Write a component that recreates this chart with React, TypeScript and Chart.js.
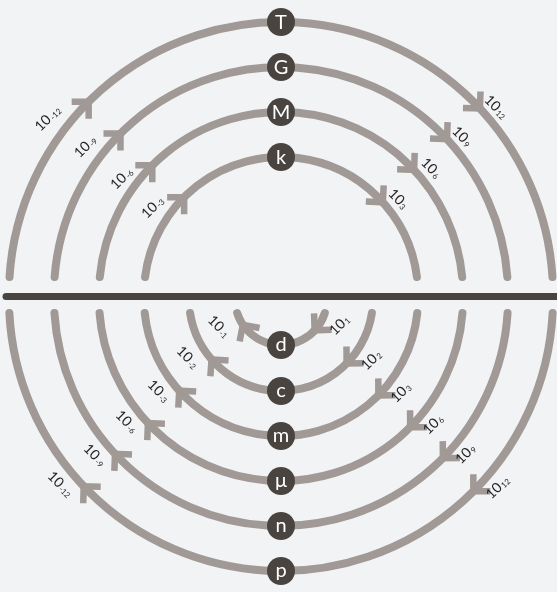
import { useEffect, useRef } from "react";
import { Chart, registerables } from "chart.js";

Chart.register(...registerables);

// ---------- data ----------
const upperPrefixes = ["k", "M", "G", "T"];
const upperPositiveExponents = ["3", "6", "9", "12"];
const upperNegativeExponents = ["-3", "-6", "-9", "-12"];

const lowerPrefixes = ["d", "c", "m", "μ", "n", "p"];
const lowerPositiveExponents = ["1", "2", "3", "6", "9", "12"];
const lowerNegativeExponents = ["-1", "-2", "-3", "-6", "-9", "-12"];

// ring radii (in scale units) for each prefix
const upperRadii = [137, 182, 227, 272];
const lowerRadii = [46, 92, 137, 182, 227, 272];

// ---------- layout (scale units) ----------
const W = 557;
const H = 592;
const CX = 281;
const UPPER_CY = 294;
const LOWER_CY = 299;
const BAR_Y = 296.5;
const BAR_X0 = 6;
const BAR_X1 = 560;
const UPPER_GAP = 17;
const LOWER_GAP = 14;

// angles (deg from horizontal) for arrows and labels
const upperArrowLeft = [45, 45, 45, 45];
const upperArrowRight = [42, 43, 43, 43];
const upperLabelLeft = [34, 36, 37, 37];
const upperLabelRight = [39, 40, 41, 41];
const upperLabelLeftOff = [18, 15, 18, 20];
const upperLabelRightOff = [14, 14, 13, 13];

const lowerArrowLeft = [34, 41, 42, 43, 43, 43.5];
const lowerArrowRight = [43, 44.5, 44.7, 44.8, 44.5, 45];
const lowerLabelLeft = [24, 32, 37, 38.5, 40, 40];
const lowerLabelRight = [24, 34, 38, 39.5, 40, 41];
const lowerLabelLeftOff = [22, 18, 16, 15, 16, 16];
const lowerLabelRightOff = [18, 17, 15, 15, 14, 15];

// ---------- styles ----------
const BG = "#f1f3f5";
const ARC = "#a09995";
const DARK = "#4a4441";
const TEXT = "#231f20";
const FONT = "Lato, 'DejaVu Sans', sans-serif";

const deg = (d: number) => (d * Math.PI) / 180;

const diagramPlugin = {
  id: "prefixDiagram",
  beforeDraw(chart: any) {
    const ctx = chart.ctx;
    ctx.save();
    ctx.fillStyle = BG;
    ctx.fillRect(0, 0, chart.width, chart.height);
    ctx.restore();
  },
  beforeDatasetsDraw(chart: any) {
    const ctx = chart.ctx;
    const xs = chart.scales.x;
    const ys = chart.scales.y;
    const px = (v: number) => xs.getPixelForValue(v);
    const py = (v: number) => ys.getPixelForValue(v);
    const len = (r: number) => Math.abs(px(CX + r) - px(CX));

    ctx.save();
    ctx.strokeStyle = ARC;
    ctx.lineWidth = 8;
    ctx.lineCap = "round";

    const chevron = (cxp: number, cyp: number, R: number, phi: number) => {
      const vx = cxp + R * Math.cos(phi);
      const vy = cyp + R * Math.sin(phi);
      const tx = -Math.sin(phi);
      const ty = Math.cos(phi);
      const bx = -tx;
      const by = -ty;
      const L = 17;
      const arms = [deg(45), deg(-45)].map((a) => {
        const c = Math.cos(a);
        const s = Math.sin(a);
        return [vx + L * (bx * c - by * s), vy + L * (bx * s + by * c)];
      });
      ctx.save();
      ctx.lineWidth = 6.5;
      ctx.lineCap = "butt";
      ctx.lineJoin = "miter";
      ctx.beginPath();
      ctx.moveTo(arms[0][0], arms[0][1]);
      ctx.lineTo(vx, vy);
      ctx.lineTo(arms[1][0], arms[1][1]);
      ctx.stroke();
      ctx.restore();
    };

    const ucx = px(CX);
    const ucy = py(UPPER_CY);
    upperRadii.forEach((r, i) => {
      const R = len(r);
      const a = Math.asin(len(UPPER_GAP) / R);
      ctx.beginPath();
      ctx.arc(ucx, ucy, R, Math.PI + a, 2 * Math.PI - a, false);
      ctx.stroke();
      chevron(ucx, ucy, R, Math.PI + deg(upperArrowLeft[i]));
      chevron(ucx, ucy, R, 2 * Math.PI - deg(upperArrowRight[i]));
    });

    const lcy = py(LOWER_CY);
    lowerRadii.forEach((r, i) => {
      const R = len(r);
      const a = Math.asin(len(LOWER_GAP) / R);
      ctx.beginPath();
      ctx.arc(ucx, lcy, R, a, Math.PI - a, false);
      ctx.stroke();
      chevron(ucx, lcy, R, deg(lowerArrowRight[i]));
      chevron(ucx, lcy, R, Math.PI - deg(lowerArrowLeft[i]));
    });
    ctx.restore();
  },
  afterDatasetsDraw(chart: any) {
    const ctx = chart.ctx;
    const xs = chart.scales.x;
    const ys = chart.scales.y;
    const px = (v: number) => xs.getPixelForValue(v);
    const py = (v: number) => ys.getPixelForValue(v);
    const len = (r: number) => Math.abs(px(CX + r) - px(CX));

    ctx.save();
    ctx.fillStyle = "#ffffff";
    ctx.font = `20px ${FONT}`;
    ctx.textAlign = "center";
    ctx.textBaseline = "middle";
    upperPrefixes.forEach((p, i) => {
      ctx.fillText(p, px(CX), py(UPPER_CY - upperRadii[i]) + 1);
    });
    lowerPrefixes.forEach((p, i) => {
      ctx.fillText(p, px(CX), py(LOWER_CY + lowerRadii[i]));
    });

    const label = (x: number, y: number, rot: number, exp: string) => {
      ctx.save();
      ctx.translate(x, y);
      ctx.rotate(rot);
      ctx.fillStyle = TEXT;
      ctx.textBaseline = "middle";
      ctx.textAlign = "left";
      ctx.font = `14px ${FONT}`;
      const w1 = ctx.measureText("10").width;
      ctx.font = `8px ${FONT}`;
      const w2 = ctx.measureText(exp).width;
      const start = -(w1 + w2 + 1) / 2;
      ctx.font = `14px ${FONT}`;
      ctx.fillText("10", start, 0);
      ctx.font = `8px ${FONT}`;
      ctx.fillText(exp, start + w1 + 1, 3);
      ctx.restore();
    };

    const ucx = px(CX);
    const ucy = py(UPPER_CY);
    const lcy = py(LOWER_CY);
    upperRadii.forEach((r, i) => {
      const R = len(r);
      let phi = Math.PI + deg(upperLabelLeft[i]);
      let rr = R + len(upperLabelLeftOff[i]);
      label(ucx + rr * Math.cos(phi), ucy + rr * Math.sin(phi), deg(-45), upperNegativeExponents[i]);
      phi = 2 * Math.PI - deg(upperLabelRight[i]);
      rr = R + len(upperLabelRightOff[i]);
      label(ucx + rr * Math.cos(phi), ucy + rr * Math.sin(phi), deg(45), upperPositiveExponents[i]);
    });
    lowerRadii.forEach((r, i) => {
      const R = len(r);
      let phi = Math.PI - deg(lowerLabelLeft[i]);
      let rr = R + len(lowerLabelLeftOff[i]);
      label(ucx + rr * Math.cos(phi), lcy + rr * Math.sin(phi), deg(45), lowerNegativeExponents[i]);
      phi = deg(lowerLabelRight[i]);
      rr = R + len(lowerLabelRightOff[i]);
      label(ucx + rr * Math.cos(phi), lcy + rr * Math.sin(phi), deg(-45), lowerPositiveExponents[i]);
    });
    ctx.restore();
  },
};

export default function App() {
  const ref = useRef<HTMLCanvasElement | null>(null);

  useEffect(() => {
    document.body.style.margin = "0";
    const canvas = ref.current;
    if (!canvas) return;

    const circlePoints = [
      ...upperRadii.map((r) => ({ x: CX, y: UPPER_CY - r })),
      ...lowerRadii.map((r) => ({ x: CX, y: LOWER_CY + r })),
    ];

    const chart = new Chart(canvas, {
      type: "scatter",
      data: {
        datasets: [
          {
            type: "line",
            data: [
              { x: BAR_X0, y: BAR_Y },
              { x: BAR_X1, y: BAR_Y },
            ],
            borderColor: DARK,
            borderWidth: 7,
            borderCapStyle: "round",
            pointRadius: 0,
            fill: false,
            clip: false,
          } as any,
          {
            data: circlePoints,
            pointRadius: 14,
            pointBackgroundColor: DARK,
            pointBorderWidth: 0,
            backgroundColor: DARK,
            borderWidth: 0,
            clip: false,
          } as any,
        ],
      },
      options: {
        responsive: false,
        animation: false,
        events: [],
        layout: { padding: 0, autoPadding: false },
        plugins: {
          legend: { display: false },
          tooltip: { enabled: false },
        },
        scales: {
          x: { type: "linear", min: 0, max: W, display: false },
          y: { type: "linear", min: 0, max: H, reverse: true, display: false },
        },
      },
      plugins: [diagramPlugin],
    });

    return () => chart.destroy();
  }, []);

  return (
    <div style={{ width: W, height: H }}>
      <canvas ref={ref} width={W} height={H} style={{ display: "block" }} />
    </div>
  );
}
